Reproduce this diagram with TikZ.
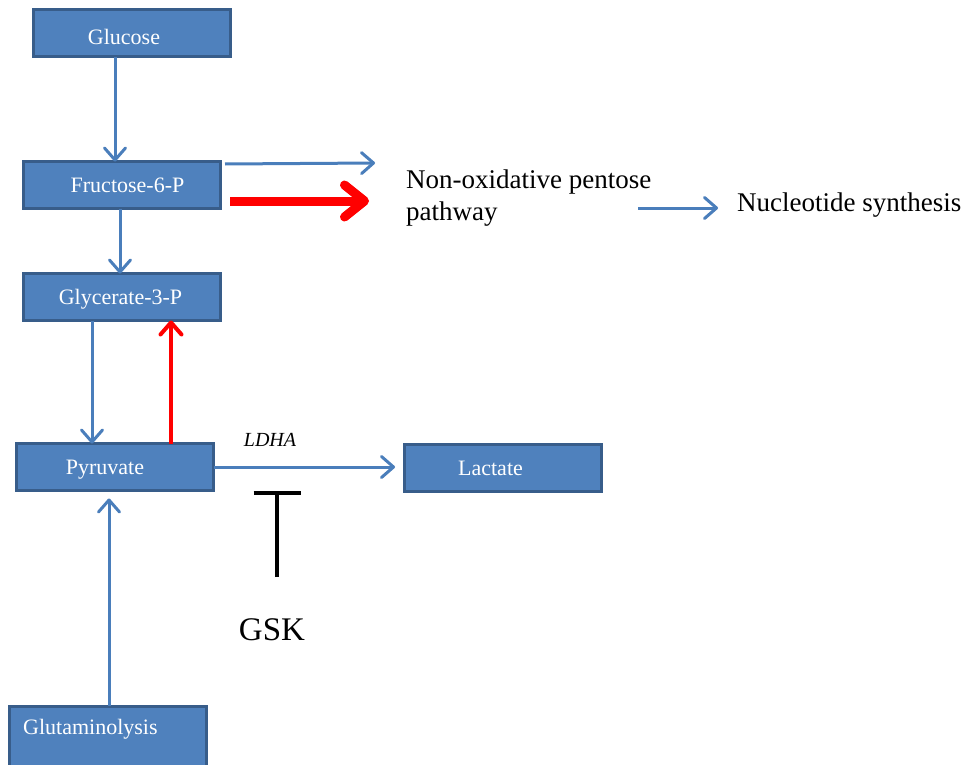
\documentclass[tikz,border=0pt]{standalone}
\usepackage{fontspec}
\setmainfont{Liberation Serif}
\usetikzlibrary{arrows.meta}
\definecolor{boxfill}{HTML}{4F81BD}
\definecolor{boxline}{HTML}{385D8A}
\definecolor{arrblue}{HTML}{4A7EBB}
\begin{document}
\begin{tikzpicture}[x=1pt,y=-1pt,
  box/.style={draw=boxline, fill=boxfill, line width=3pt, minimum width=197pt, minimum height=47pt, inner sep=0pt, outer sep=0pt},
  boxtxt/.style={text=white, font=\fontsize{22}{26}\selectfont, inner sep=0pt},
  outtxt/.style={text=black, font=\fontsize{27}{32}\selectfont, inner sep=0pt, align=left},
  barrow/.style={draw=arrblue, line width=3pt, -{Straight Barb[length=12pt,width=21pt,round]}},
  rarrow/.style={draw=red, line width=4pt, -{Straight Barb[length=12pt,width=21pt,round]}},
  bigrarrow/.style={draw=red, line width=9pt, -{Straight Barb[length=20pt,width=32pt,round]}},
  inhib/.style={draw=black, line width=4pt, -{Bar[width=47pt]}}
]
\clip (0,0) rectangle (971,765);
\fill[white] (0,0) rectangle (971,765);

\node[box, label={[boxtxt, xshift=-8pt, yshift=-3pt]center:Glucose}] (glucose) at (132,33.5) {};
\node[box, label={[boxtxt, xshift=6pt]center:Fructose-6-P}] (fructose) at (121.5,185) {};
\node[box, label={[boxtxt, xshift=-1pt, yshift=-2pt]center:Glycerate-3-P}] (glycerate) at (121.5,297) {};
\node[box, label={[boxtxt, xshift=-10pt, yshift=-3pt]center:Pyruvate}] (pyruvate) at (115,467) {};
\node[box, label={[boxtxt, xshift=-12pt]center:Lactate}] (lactate) at (502.5,468) {};
\node[box, minimum height=84pt] (glut) at (108,748) {};
\node[boxtxt, anchor=west] (gluttxt) at (23,729) {Glutaminolysis};

\node[outtxt, anchor=north west] (pentose) at (406,170) {Non-oxidative pentose\\pathway};
\node[outtxt, anchor=west] (nucleo) at (737,205) {Nucleotide synthesis};
\node[text=black, font=\fontsize{20}{23}\selectfont\itshape, inner sep=0pt] (ldha) at (270,440) {LDHA};
\node[text=black, font=\fontsize{33}{38}\selectfont, inner sep=0pt] (gsk) at (272,630) {GSK};

\draw[barrow] ([xshift=-17pt]glucose.south) -- ([xshift=-6.5pt]fructose.north);
\draw[barrow] ([xshift=-1.5pt]fructose.south) -- ([xshift=-1.5pt]glycerate.north);
\draw[barrow] ([xshift=-29.5pt]glycerate.south) -- ([xshift=-23pt]pyruvate.north);
\draw[rarrow] ([xshift=56pt]pyruvate.north) -- ([xshift=49.5pt]glycerate.south);
\draw[barrow, shorten >=9pt] (pyruvate.east) -- (pyruvate.east -| lactate.west);
\draw[barrow, shorten >=8pt] ([xshift=1pt]glut.north) -- ([xshift=1pt]glut.north |- pyruvate.south);
\draw[barrow] ([shift={(5pt,21pt)}]fructose.east) -- ([shift={(-31pt,0pt)}]pentose.north west |- 0,163);
\draw[bigrarrow] ([shift={(10pt,-16pt)}]fructose.east) -- ([xshift=-37pt]pentose.west |- 0,201);
\draw[barrow] ([shift={(-99pt,-3pt)}]nucleo.west) -- ([shift={(-19pt,-3pt)}]nucleo.west);
\coordinate (inh) at (277,491);
\draw[inhib] (277,577) -- (inh);
\end{tikzpicture}
\end{document}
